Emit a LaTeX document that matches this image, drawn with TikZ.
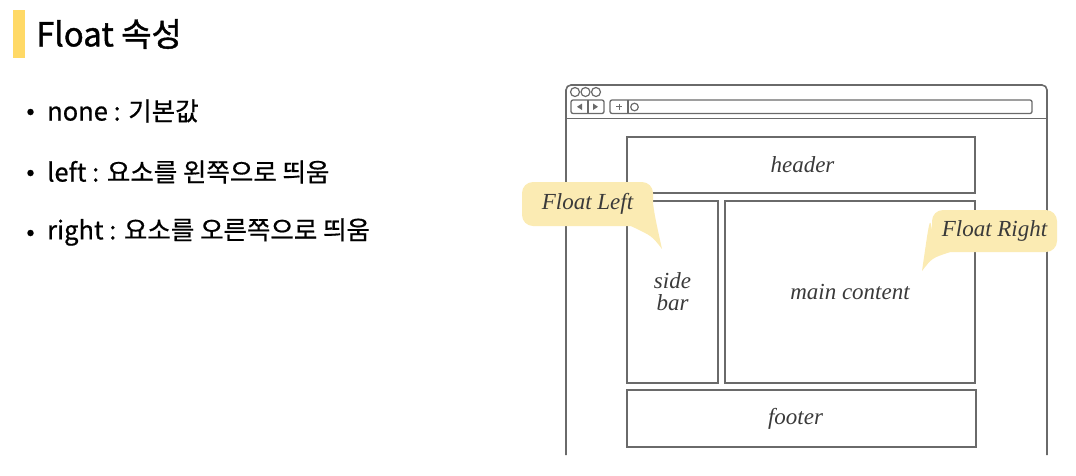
\documentclass[tikz,border=0pt]{standalone}
\usepackage{fontspec}
\newfontfamily\kr[FakeBold=0.6]{Noto Sans CJK KR}
\newfontfamily\krt[FakeBold=1.2]{Noto Sans CJK KR}
\newfontfamily\wf{Liberation Serif}
\definecolor{barY}{HTML}{FFD966}
\definecolor{bubY}{HTML}{FBEBB3}
\definecolor{lineG}{HTML}{6A6A6A}
\definecolor{txtG}{HTML}{3A3A3A}
\begin{document}
\begin{tikzpicture}[x=1pt,y=-1pt,
  frame/.style={draw=lineG,line width=1.6pt},
  box/.style={draw=lineG,line width=1.8pt,inner sep=0pt,font=\wf\itshape\fontsize{23}{24}\selectfont,text=txtG,align=center},
  bubble/.style={fill=bubY,rounded corners=11pt,inner sep=0pt,font=\wf\itshape\fontsize{23}{24}\selectfont,text=txtG},
  bullet/.style={anchor=west,inner sep=0pt,font=\kr\fontsize{25.5}{28}\selectfont},
  dot/.style={circle,fill=black,inner sep=0pt,minimum size=6.5pt}]
\useasboundingbox (0,0) rectangle (1076,475);
% title
\fill[barY] (13,10) rectangle (25,58);
\node[anchor=west,inner sep=0pt,font=\krt\fontsize{33}{35}\selectfont] (title) at (36,34) {Float 속성};
% bullets
\node[dot] (d1) at (30.5,112) {};
\node[bullet] (b1) at (47,111) {none : 기본값};
\node[dot] (d2) at (30.5,173) {};
\node[bullet] (b2) at (47,172) {left : 요소를 왼쪽으로 띄움};
\node[dot] (d3) at (30.5,233) {};
\node[bullet] (b3) at (47,232) {right : 요소를 오른쪽으로 띄움};
% browser frame
\draw[frame,rounded corners=5pt] (566,455) -- (566,85) -- (1047,85) -- (1047,455);
\draw[frame] (566,118.5) -- (1047,118.5);
\foreach \i/\x in {1/575,2/585.5,3/596}
  \draw[lineG,line width=1.2pt] (\x,92) circle (4.5);
\draw[lineG,line width=1.3pt,rounded corners=2pt] (571,100) rectangle (604,113.5);
\draw[lineG,line width=1.2pt] (588,100) -- (588,113.5);
\fill[lineG] (577,106.8) -- (582,103.5) -- (582,110) -- cycle;
\fill[lineG] (598,106.8) -- (593,103.5) -- (593,110) -- cycle;
\draw[lineG,line width=1.3pt,rounded corners=2pt] (610,100) rectangle (1032,113.5);
\draw[lineG,line width=1pt] (616,106.8) -- (622,106.8) (619,103.8) -- (619,109.8);
\draw[lineG,line width=1.2pt] (628,100) -- (628,113.5);
\draw[lineG,line width=1.2pt] (634.5,107) circle (3.8);
% layout boxes
\node[box,minimum width=348pt,minimum height=56pt] (header) at (801,165) {\hspace*{3pt}header};
\node[box,minimum width=91pt,minimum height=182pt] (side) at (672.5,292) {side\\[-2pt]bar};
\node[box,minimum width=250pt,minimum height=182pt] (main) at (850,292) {main content};
\node[box,minimum width=349pt,minimum height=57pt,text width=349pt] (footer) at (801.5,418.5) {\hspace*{-12pt}footer};
% bubbles
\node[bubble,minimum width=131pt,minimum height=44pt] (fl) at (587.5,204) {Float Left};
\coordinate (fltip) at (662,249);
\fill[bubY] ([yshift=-1pt]fl.east) .. controls ([xshift=2pt,yshift=-14pt]fl.east) .. (fltip)
  .. controls (652,236) .. ([xshift=-22pt]fl.south east) -- ([xshift=-8pt,yshift=-10pt]fl.east) -- cycle;
\node[bubble,minimum width=125pt,minimum height=42pt] (fr) at (994.5,231) {Float Right};
\coordinate (frtip) at (922,271);
\fill[bubY] ([yshift=2pt]fr.west) .. controls ([xshift=-2pt,yshift=14pt]fr.west) .. (frtip)
  .. controls (932,258) .. ([xshift=18pt]fr.south west) -- ([xshift=8pt,yshift=-8pt]fr.west) -- cycle;
\end{tikzpicture}
\end{document}
